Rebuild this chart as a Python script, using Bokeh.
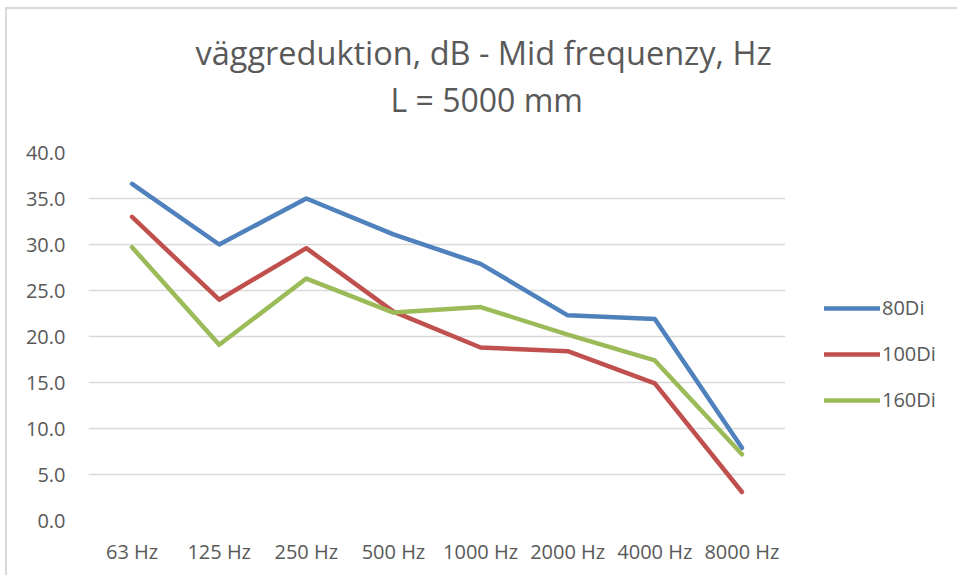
from bokeh.plotting import figure
from bokeh.models import Range1d, Legend, LegendItem, Title, NumeralTickFormatter, FixedTicker
from bokeh.embed import file_html
from bokeh.resources import INLINE

categories = ["63 Hz", "125 Hz", "250 Hz", "500 Hz", "1000 Hz", "2000 Hz", "4000 Hz", "8000 Hz"]
s80 = [36.6, 30.0, 35.0, 31.1, 27.9, 22.3, 21.9, 7.9]
s100 = [33.0, 24.0, 29.6, 22.7, 18.8, 18.4, 14.9, 3.1]
s160 = [29.7, 19.1, 26.3, 22.6, 23.2, 20.2, 17.4, 7.2]
series_names = ["80Di", "100Di", "160Di"]
colors = ["#4F81BD", "#C0504D", "#9BBB59"]
yticks = [0, 5, 10, 15, 20, 25, 30, 35, 40]
title_lines = ["väggreduktion, dB - Mid frequenzy, Hz", "L = 5000 mm"]

FONT = "Open Sans"
GREY = "#595959"

p = figure(x_range=categories, y_range=Range1d(0, 40), frame_width=697, frame_height=368,
           output_backend="svg", toolbar_location=None,
           min_border_left=88, min_border_right=172, min_border_top=152, min_border_bottom=55)
p.outline_line_color = None
p.border_fill_alpha = 0
p.styles = {"background": "linear-gradient(#D9D9D9, #D9D9D9) 5px 7px / 2px 100% no-repeat, "
                          "linear-gradient(#D9D9D9, #D9D9D9) 5px 7px / 100% 2px no-repeat, #FFFFFF"}

renderers = []
for vals, c in zip([s80, s100, s160], colors):
    r = p.line(categories, vals, line_color=c, line_width=4.5, line_cap="round", line_join="round")
    renderers.append(r)

p.yaxis.ticker = FixedTicker(ticks=yticks)
p.yaxis.formatter = NumeralTickFormatter(format="0.0")
for ax in (p.xaxis[0], p.yaxis[0]):
    ax.axis_line_color = None
    ax.major_tick_line_color = None
    ax.minor_tick_line_color = None
    ax.major_label_text_font = FONT
    ax.major_label_text_font_size = "20px"
    ax.major_label_text_color = GREY
p.yaxis.major_label_standoff = 17
p.xaxis.major_label_standoff = 11
p.xgrid.grid_line_color = None
p.ygrid.grid_line_color = "#D9D9D9"
p.ygrid.grid_line_width = 1.3

t2 = Title(text=title_lines[1], align="left", offset=302, standoff=64, text_font=FONT,
           text_font_size="32px", text_font_style="normal", text_color=GREY)
t1 = Title(text=title_lines[0], align="left", offset=107, standoff=-62, text_font=FONT,
           text_font_size="32.5px", text_font_style="normal", text_color=GREY)
p.add_layout(t2, "above")
p.add_layout(t1, "above")

legend = Legend(items=[LegendItem(label=n, renderers=[r]) for n, r in zip(series_names, renderers)],
                location=(39, 107), orientation="vertical", glyph_width=56, glyph_height=20,
                label_standoff=2, spacing=19, padding=0, margin=0,
                label_text_font=FONT, label_text_font_size="20px", label_text_color=GREY,
                border_line_color=None, background_fill_alpha=0)
p.add_layout(legend, "right")

open("out.html", "w").write(file_html(p, INLINE))
